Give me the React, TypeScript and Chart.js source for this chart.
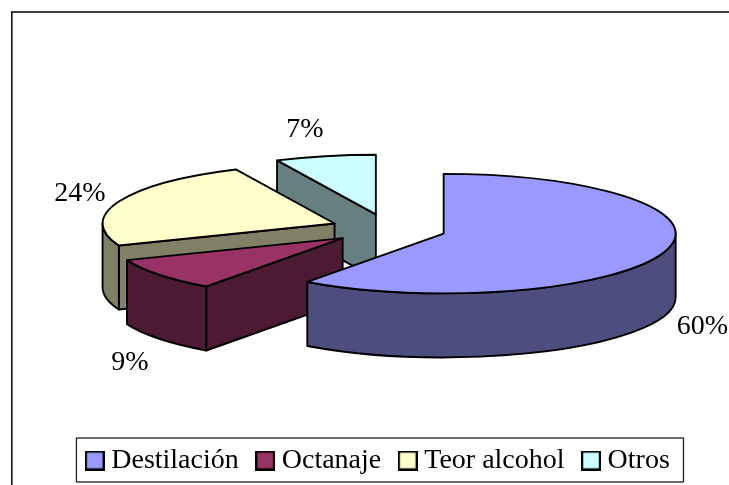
import React, { useEffect, useRef } from "react";
import { Chart, registerables } from "chart.js";

Chart.register(...registerables);

const categories = ["Destilación", "Octanaje", "Teor alcohol", "Otros"];
const values = [60, 9, 24, 7];
const topColors = ["#9999FF", "#993366", "#FFFFCC", "#CCFFFF"];
const wallColors = ["#4D4D80", "#4D1A33", "#808066", "#668080"];
const labelAnchors = [
  [702.5, 327],
  [130, 363],
  [80, 194],
  [305, 130],
];
const paintOrder = [3, 2, 1, 0];

const FONT = "'Liberation Serif', 'Times New Roman', serif";
const WIDTH = 729;
const HEIGHT = 485;
const CENTER_X = 388.5;
const CENTER_Y = 229;
const SQUASH = 0.2575;
const RADIUS = 232;
const EXPLODE = 58;
const DEPTH = 64;
const LINE = 1.9;

function swatch(color: string) {
  const c = document.createElement("canvas");
  c.width = 20;
  c.height = 20;
  const g = c.getContext("2d")!;
  g.fillStyle = color;
  g.fillRect(0, 0, 20, 20);
  g.strokeStyle = "#000";
  g.lineWidth = 2.2;
  g.strokeRect(1.1, 1.1, 17.8, 17.8);
  return c;
}

const pie3d = {
  id: "pie3d",
  beforeDraw(chart: any) {
    const { ctx } = chart;
    ctx.save();
    ctx.fillStyle = "#fff";
    ctx.fillRect(0, 0, WIDTH, HEIGHT);
    ctx.strokeStyle = "#111";
    ctx.lineWidth = 1.6;
    ctx.strokeRect(11.8, 12, 800, 600);
    const hb = chart.legend.legendHitBoxes;
    if (hb && hb.length) {
      const midY = hb[0].top + hb[0].height / 2;
      const last = hb[hb.length - 1];
      ctx.lineWidth = 1.3;
      ctx.strokeStyle = "#222";
      ctx.strokeRect(hb[0].left - 15.8, midY - 22.5, last.left + last.width - hb[0].left + 29.5, 44);
    }
    ctx.restore();
  },
  beforeDatasetsDraw(chart: any) {
    const { ctx } = chart;
    const arcs = chart.getDatasetMeta(0).data;
    for (const i of paintOrder) {
      const arc = arcs[i];
      const start = arc.startAngle;
      const end = arc.endAngle;
      const mid = (start + end) / 2;
      const cx = CENTER_X + Math.cos(mid) * EXPLODE;
      const cy = CENTER_Y + Math.sin(mid) * EXPLODE * SQUASH;
      const r = arc.outerRadius;
      const rim = (a: number) => [cx + r * Math.cos(a), cy + r * SQUASH * Math.sin(a)];

      ctx.save();
      ctx.lineWidth = LINE;
      ctx.lineJoin = "round";
      ctx.strokeStyle = "#000";
      ctx.fillStyle = wallColors[i];

      // flat cut faces, only those that face the viewer
      const faces = [
        { a: start, visible: Math.cos(start) < -1e-6 },
        { a: end, visible: Math.cos(end) > 1e-6 },
      ];
      for (const { a, visible } of faces) {
        if (!visible) continue;
        const [px, py] = rim(a);
        ctx.beginPath();
        ctx.moveTo(cx, cy);
        ctx.lineTo(px, py);
        ctx.lineTo(px, py + DEPTH);
        ctx.lineTo(cx, cy + DEPTH);
        ctx.closePath();
        ctx.fill();
        ctx.stroke();
      }

      // curved outer wall, only the part that faces the viewer
      const from = Math.max(start, 0);
      const to = Math.min(end, Math.PI);
      if (to > from) {
        ctx.beginPath();
        ctx.ellipse(cx, cy, r, r * SQUASH, 0, from, to);
        ctx.ellipse(cx, cy + DEPTH, r, r * SQUASH, 0, to, from, true);
        ctx.closePath();
        ctx.fill();
        ctx.stroke();
      }

      // the top face is the library's own arc, flattened
      ctx.save();
      ctx.translate(cx, cy);
      ctx.scale(1, SQUASH);
      ctx.translate(-arc.x, -arc.y);
      arc.draw(ctx);
      ctx.restore();

      ctx.beginPath();
      ctx.moveTo(cx, cy);
      ctx.ellipse(cx, cy, r, r * SQUASH, 0, start, end);
      ctx.closePath();
      ctx.stroke();
      ctx.restore();
    }
    return false;
  },
  afterDraw(chart: any) {
    const { ctx } = chart;
    const total = values.reduce((a, b) => a + b, 0);
    ctx.save();
    ctx.fillStyle = "#000";
    ctx.font = `28px ${FONT}`;
    ctx.textAlign = "center";
    ctx.textBaseline = "middle";
    values.forEach((v, i) => {
      ctx.fillText(`${Math.round((v / total) * 100)}%`, labelAnchors[i][0], labelAnchors[i][1]);
    });
    ctx.restore();
  },
};

export default function App() {
  const ref = useRef<HTMLCanvasElement>(null);
  useEffect(() => {
    const chart = new Chart(ref.current!, {
      type: "pie",
      data: {
        labels: categories,
        datasets: [
          {
            data: values,
            backgroundColor: topColors,
            borderWidth: 0,
            hoverOffset: 0,
          },
        ],
      },
      options: {
        animation: false,
        responsive: false,
        rotation: 0,
        radius: RADIUS,
        layout: { padding: { left: 33, right: 0, top: 0, bottom: 0.5 } },
        plugins: {
          tooltip: { enabled: false },
          legend: {
            display: true,
            position: "bottom",
            labels: {
              usePointStyle: true,
              pointStyleWidth: 5,
              padding: 24,
              color: "#000",
              font: { family: FONT, size: 28 },
              generateLabels: () =>
                categories.map((text, i) => ({
                  text,
                  fillStyle: topColors[i],
                  strokeStyle: "#000",
                  lineWidth: 2,
                  pointStyle: swatch(topColors[i]),
                  hidden: false,
                  index: i,
                  datasetIndex: 0,
                })),
            },
          },
        },
      },
      plugins: [pie3d],
    } as any);
    return () => chart.destroy();
  }, []);
  return (
    <canvas
      ref={ref}
      width={WIDTH}
      height={HEIGHT}
      style={{ position: "fixed", left: 0, top: 0, display: "block" }}
    />
  );
}
